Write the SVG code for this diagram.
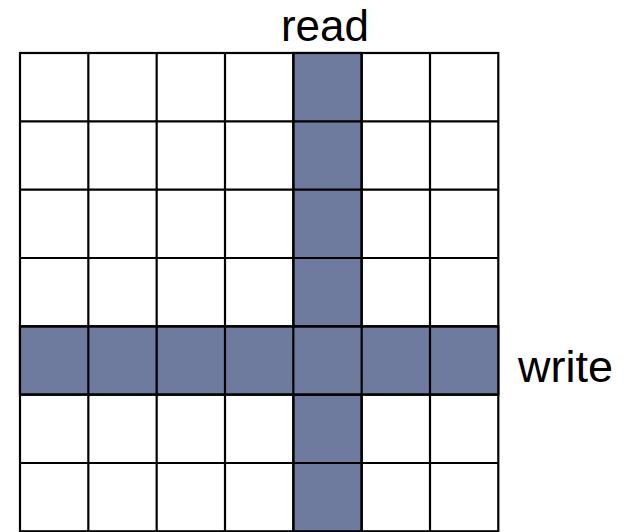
<svg xmlns="http://www.w3.org/2000/svg" width="624" height="532" viewBox="0 0 624 532">
<style>
.cell{fill:#ffffff;stroke:#000;stroke-width:2.2}
.hl{fill:#6f7a9f;stroke:#000;stroke-width:2.2}
.lbl{font-family:"Liberation Sans",Arial,sans-serif;font-size:44px;fill:#000}
</style>
<rect width="624" height="532" fill="#fff"/>
<g id="grid">
<g id="cells-white">
<rect class="cell" x="20" y="53" width="478.3" height="478.3"/>
</g>
<g id="read-column">
<rect class="hl" x="293.3" y="53" width="68.33" height="478.3"/>
</g>
<g id="write-row">
<rect class="hl" x="20" y="326.3" width="478.3" height="68.33"/>
</g>
<g id="lines" stroke="#000" stroke-width="2.2">
<line x1="88.33" y1="53" x2="88.33" y2="531.3"/>
<line x1="156.67" y1="53" x2="156.67" y2="531.3"/>
<line x1="225" y1="53" x2="225" y2="531.3"/>
<line x1="293.33" y1="53" x2="293.33" y2="531.3"/>
<line x1="361.67" y1="53" x2="361.67" y2="531.3"/>
<line x1="430" y1="53" x2="430" y2="531.3"/>
<line x1="20" y1="121.33" x2="498.3" y2="121.33"/>
<line x1="20" y1="189.67" x2="498.3" y2="189.67"/>
<line x1="20" y1="258" x2="498.3" y2="258"/>
<line x1="20" y1="326.33" x2="498.3" y2="326.33"/>
<line x1="20" y1="394.67" x2="498.3" y2="394.67"/>
<line x1="20" y1="463" x2="498.3" y2="463"/>
</g>
</g>
<g id="read-label"><text class="lbl" x="325" y="41" text-anchor="middle">read</text></g>
<g id="write-label"><text class="lbl" x="518" y="382" style="font-size:45px">write</text></g>
</svg>
